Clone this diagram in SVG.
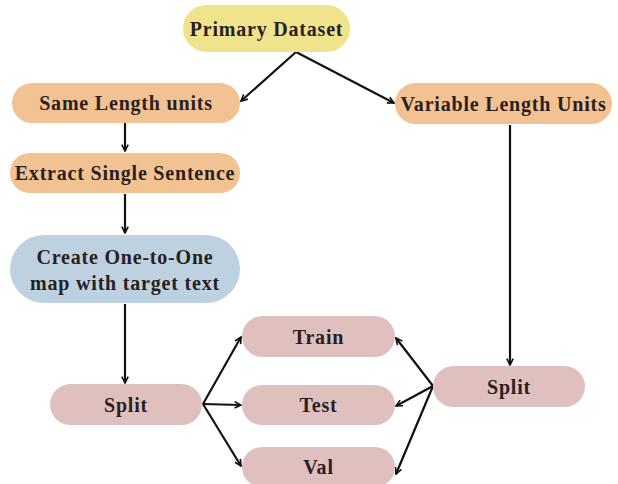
<svg xmlns="http://www.w3.org/2000/svg" width="618" height="484" viewBox="0 0 618 484">
<defs>
<style>
.t{font-family:"Liberation Serif","DejaVu Serif",serif;font-weight:bold;font-size:20px;letter-spacing:0.8px;fill:#2a1f1f;text-anchor:middle;dominant-baseline:central}
.y{fill:#efe48c}.o{fill:#f2c292}.b{fill:#bdd1e0}.p{fill:#e0bfbf}
.c{stroke:#111;stroke-width:2.2;fill:none;marker-end:url(#a)}
</style>
<marker id="a" viewBox="0 0 10 10" refX="9" refY="5" markerWidth="8" markerHeight="8" orient="auto" markerUnits="userSpaceOnUse">
<path d="M1,1 L9,5 L1,9" fill="none" stroke="#111" stroke-width="2"/>
</marker>
</defs>
<rect width="618" height="484" fill="#fff"/>
<g id="connectors">
<path class="c" d="M296,52 L241,101"/>
<path class="c" d="M296,52 L394,103"/>
<path class="c" d="M125,123 L125,151"/>
<path class="c" d="M125,194 L125,233"/>
<path class="c" d="M125,304 L125,383"/>
<path class="c" d="M510,125 L510,365"/>
<path class="c" d="M203,404 L241,337"/>
<path class="c" d="M203,404 L241,405"/>
<path class="c" d="M203,404 L241,466"/>
<path class="c" d="M433,386 L396,338"/>
<path class="c" d="M433,386 L396,406"/>
<path class="c" d="M433,386 L396,474"/>
</g>
<g id="primary"><rect class="y" x="183" y="5" width="167" height="47" rx="23.5"/><text class="t" x="266.5" y="28.5">Primary Dataset</text></g>
<g id="same"><rect class="o" x="12" y="83" width="228" height="40" rx="20"/><text class="t" x="126" y="103">Same Length units</text></g>
<g id="variable"><rect class="o" x="395" y="83" width="217" height="41" rx="20.5"/><text class="t" x="503.5" y="103.5">Variable Length Units</text></g>
<g id="extract"><rect class="o" x="10" y="153" width="230" height="40" rx="20"/><text class="t" x="125" y="173">Extract Single Sentence</text></g>
<g id="create"><rect class="b" x="10" y="235" width="230" height="68" rx="34"/><text class="t" x="125" y="257">Create One-to-One</text><text class="t" x="125" y="283">map with target text</text></g>
<g id="split1"><rect class="p" x="50" y="384" width="152" height="41" rx="20.5"/><text class="t" x="126" y="404.5">Split</text></g>
<g id="train"><rect class="p" x="242" y="316" width="153" height="41" rx="20.5"/><text class="t" x="318.5" y="336.5">Train</text></g>
<g id="test"><rect class="p" x="242" y="385" width="153" height="40" rx="20"/><text class="t" x="318.5" y="405">Test</text></g>
<g id="val"><rect class="p" x="242" y="447" width="153" height="40" rx="20"/><text class="t" x="318.5" y="467">Val</text></g>
<g id="split2"><rect class="p" x="433" y="366" width="152" height="41" rx="20.5"/><text class="t" x="509" y="386.5">Split</text></g>
</svg>
